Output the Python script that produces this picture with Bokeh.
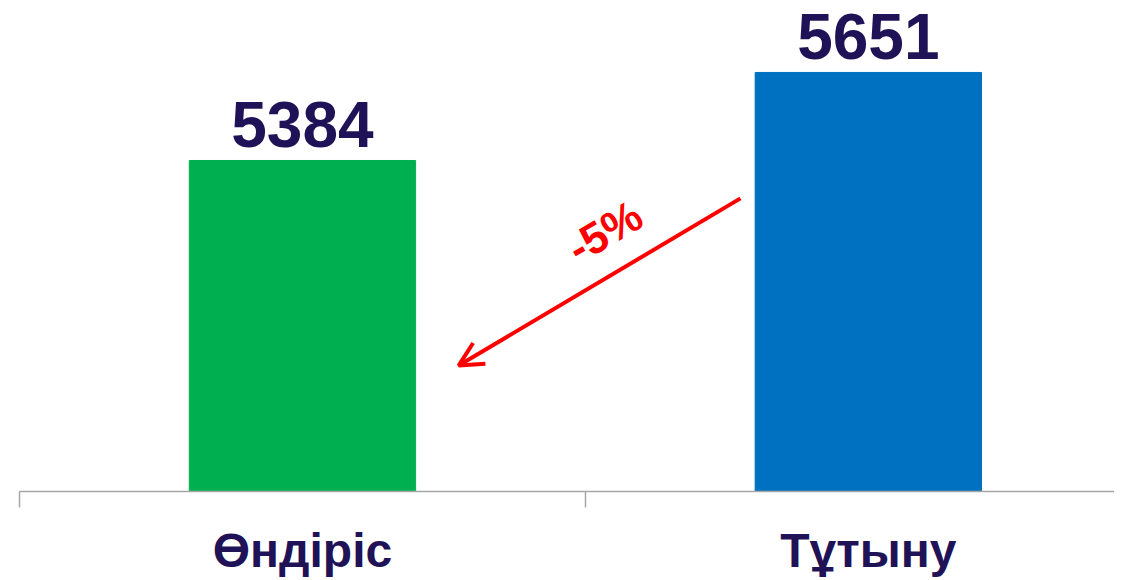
import math
from bokeh.plotting import figure
from bokeh.models import ColumnDataSource, Range1d, LinearAxis, FixedTicker, Arrow, OpenHead, Label
from bokeh.core.properties import value
from bokeh.embed import file_html
from bokeh.resources import INLINE

categories = ["Өндіріс", "Тұтыну"]
values = [5384, 5651]
bar_colors = ["#00B050", "#0070C0"]
value_labels = [str(v) for v in values]
change_label = "-5%"

NAVY = "#1F1257"
FONT = "Liberation Sans"

xs = [i + 0.5 for i in range(len(categories))]
src = ColumnDataSource(dict(x=xs, top=values, color=bar_colors, label=value_labels))

p = figure(frame_width=1095, frame_height=483, output_backend="svg", toolbar_location=None,
           x_range=Range1d(0, 1.935), y_range=Range1d(4380, 5845),
           min_border_left=19, min_border_right=0, min_border_top=8, min_border_bottom=0,
           x_axis_location=None, y_axis_location=None)
p.grid.visible = False
p.outline_line_color = None
p.background_fill_color = "white"
p.border_fill_color = "white"

p.vbar(x="x", top="top", bottom=4380, width=0.4, color="color", source=src)
p.text(x="x", y="top", text="label", source=src, text_align="center", text_baseline="alphabetic",
       y_offset=-36, text_font=value(FONT), text_font_style="bold", text_font_size="64px",
       text_color=NAVY)

axis1 = LinearAxis(ticker=FixedTicker(ticks=[0, 1, 2]), axis_line_color="#A6A6A6", axis_line_width=1.5,
                   major_tick_line_color="#A6A6A6", major_tick_line_width=1.5, major_tick_out=16, major_tick_in=0,
                   minor_tick_line_color=None, major_label_text_font_size="0px", major_label_standoff=0,
                   major_label_overrides={0: "", 1: "", 2: ""})
axis2 = LinearAxis(ticker=FixedTicker(ticks=xs),
                   major_label_overrides={x: c for x, c in zip(xs, categories)},
                   axis_line_color=None, major_tick_line_color=None, minor_tick_line_color=None,
                   major_label_text_font=FONT, major_label_text_font_style="bold",
                   major_label_text_font_size="48px", major_label_text_color=NAVY,
                   major_label_standoff=10)
p.add_layout(axis1, "below")
p.add_layout(axis2, "below")

p.add_layout(Arrow(end=OpenHead(size=24, line_color="#FF0000", line_width=4),
                   x_start=1.274, y_start=5269, x_end=0.776, y_end=4762,
                   line_color="#FF0000", line_width=4))
p.add_layout(Label(x=1.034, y=5169, text=change_label, angle=math.radians(30.6),
                   text_align="center", text_baseline="middle", text_font=FONT,
                   text_font_style="bold", text_font_size="44px", text_color="#FF0000"))

open("out.html", "w").write(file_html(p, INLINE))
